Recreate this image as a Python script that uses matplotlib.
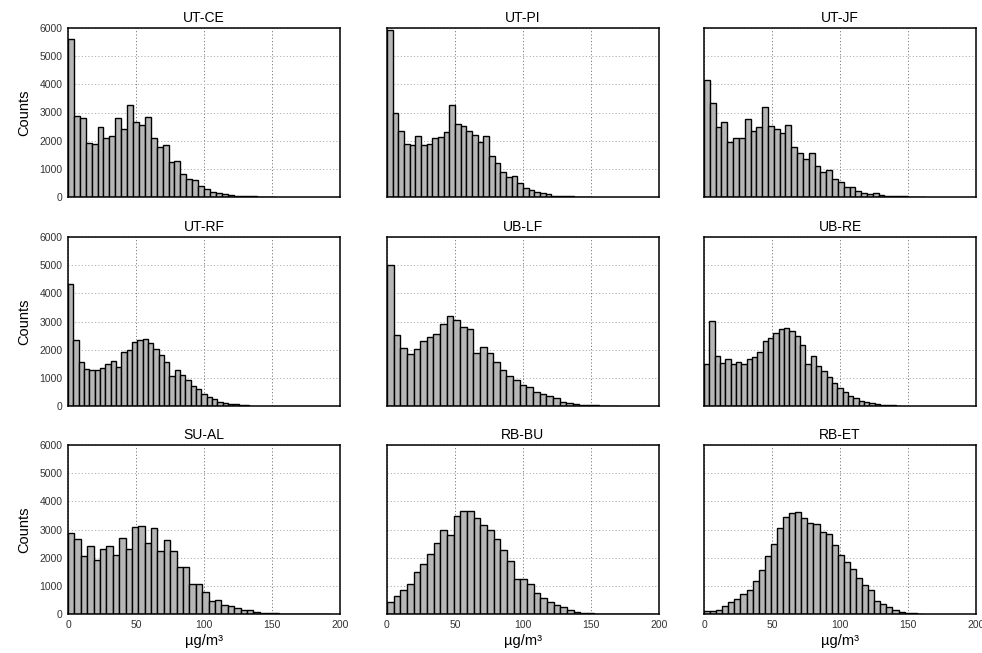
import numpy as np
import matplotlib
matplotlib.use("Agg")
import matplotlib.pyplot as plt

plt.rcParams["font.family"] = ["Liberation Sans", "DejaVu Sans"]

# Station codes, one panel each (row-major order)
stations = ["UT-CE", "UT-PI", "UT-JF",
            "UT-RF", "UB-LF", "UB-RE",
            "SU-AL", "RB-BU", "RB-ET"]

# Histogram bin widths (µg/m³) per station; bins start at 0
bin_widths = [4.35, 4.17, 4.28, 3.92, 4.88, 3.92, 4.7, 4.9, 4.47]

# Counts per bin
counts_ut_ce = [5600, 2890, 2800, 1900, 1870, 2470, 2080, 2170, 2820, 2430,
                3250, 2650, 2570, 2850, 2080, 1770, 1850, 1260, 1280, 800,
                630, 600, 380, 300, 170, 140, 95, 70, 50, 35, 25, 20, 12, 10, 8]
counts_ut_pi = [5920, 2980, 2360, 1890, 1850, 2170, 1850, 1870, 2110, 2140,
                2300, 3260, 2590, 2530, 2350, 2210, 1970, 2170, 1440, 1190,
                900, 700, 750, 490, 310, 250, 180, 130, 90, 50, 40, 25, 20,
                15, 12, 10]
counts_ut_jf = [4150, 3330, 2470, 2650, 1970, 2110, 2110, 2780, 2350, 2470,
                3210, 2530, 2420, 2280, 2560, 1780, 1550, 1340, 1550, 1090,
                900, 960, 630, 520, 370, 370, 220, 130, 110, 140, 80, 40, 50,
                30, 20, 15, 10, 10]
counts_ut_rf = [4330, 2330, 1550, 1310, 1290, 1270, 1360, 1480, 1590, 1380,
                1910, 1980, 2280, 2330, 2390, 2240, 2010, 1820, 1570, 1080,
                1290, 1110, 920, 720, 600, 440, 320, 250, 150, 90, 60, 60, 40,
                20]
counts_ub_lf = [4990, 2510, 2050, 1860, 2010, 2310, 2440, 2560, 2900, 3200,
                3050, 2800, 2730, 1870, 2110, 1870, 1550, 1280, 1070, 910,
                730, 660, 510, 430, 370, 280, 140, 90, 60, 30, 25, 20, 15, 12,
                10]
counts_ub_re = [1480, 3020, 1780, 1510, 1660, 1500, 1570, 1490, 1670, 1740,
                1910, 2310, 2410, 2580, 2750, 2780, 2670, 2490, 2170, 1480,
                1780, 1430, 1240, 1040, 830, 650, 500, 370, 270, 180, 130, 90,
                70, 50, 30, 20, 10]
counts_su_al = [2890, 2670, 2070, 2400, 1900, 2300, 2420, 2110, 2700, 2290,
                3080, 3130, 2510, 3070, 2250, 2630, 2220, 1680, 1680, 1060,
                1060, 770, 450, 500, 330, 280, 210, 130, 130, 70, 40, 40, 20,
                15, 10, 10, 8, 8, 6, 6, 5]
counts_rb_bu = [410, 650, 840, 1070, 1490, 1780, 2140, 2510, 2980, 2800,
                3470, 3670, 3650, 3410, 3160, 2980, 2670, 2270, 1870, 1230,
                1250, 1050, 730, 570, 430, 310, 240, 130, 70, 50, 30, 15, 10,
                8, 6, 5, 5, 5, 5, 5]
counts_rb_et = [90, 90, 150, 300, 430, 520, 700, 850, 1170, 1550,
                2060, 2500, 3070, 3460, 3590, 3620, 3420, 3230, 3180, 2910,
                2840, 2460, 2110, 1860, 1590, 1280, 1040, 860, 460, 340, 240,
                140, 70, 40, 20, 10]

all_counts = [counts_ut_ce, counts_ut_pi, counts_ut_jf,
              counts_ut_rf, counts_ub_lf, counts_ub_re,
              counts_su_al, counts_rb_bu, counts_rb_et]

x_ticks = [0, 50, 100, 150, 200]
y_ticks = [0, 1000, 2000, 3000, 4000, 5000, 6000]

W, H = 982, 653
fig = plt.figure(figsize=(W / 100, H / 100), dpi=100)

col_left = [68, 387, 704]
row_top = [28, 237, 445]
ax_w, ax_h = 272, 169

for i, (name, width, counts) in enumerate(zip(stations, bin_widths, all_counts)):
    r, c = divmod(i, 3)
    ax = fig.add_axes([col_left[c] / W, 1 - (row_top[r] + ax_h) / H,
                       ax_w / W, ax_h / H])
    edges = np.arange(len(counts)) * width
    ax.bar(edges, counts, width=width, align="edge",
           color="#b6b6b6", edgecolor="black", linewidth=1.0, zorder=2)
    ax.set_xlim(0, 200)
    ax.set_ylim(0, 6000)
    ax.set_xticks(x_ticks)
    ax.set_yticks(y_ticks)
    # dotted grid: vertical lines a bit darker than horizontal ones
    ax.grid(True, axis="x", color="#7a7a7a", linestyle=(0, (1.2, 2.2)),
            linewidth=0.7, zorder=1)
    ax.grid(True, axis="y", color="#b0b0b0", linestyle=(0, (1.2, 2.2)),
            linewidth=0.7, zorder=1)
    ax.set_axisbelow(True)
    ax.tick_params(length=0, labelsize=7.5, colors="#333333", pad=4)
    for sp in ax.spines.values():
        sp.set_linewidth(1.1)
        sp.set_color("black")
    ax.set_title(name, fontsize=10, pad=4)
    if c == 0:
        ax.set_ylabel("Counts", fontsize=10.5, labelpad=6)
    else:
        ax.tick_params(labelleft=False)
    if r == 2:
        ax.set_xlabel("µg/m³", fontsize=10.5, labelpad=3)
    else:
        ax.tick_params(labelbottom=False)

fig.savefig("out.png", dpi=100)
